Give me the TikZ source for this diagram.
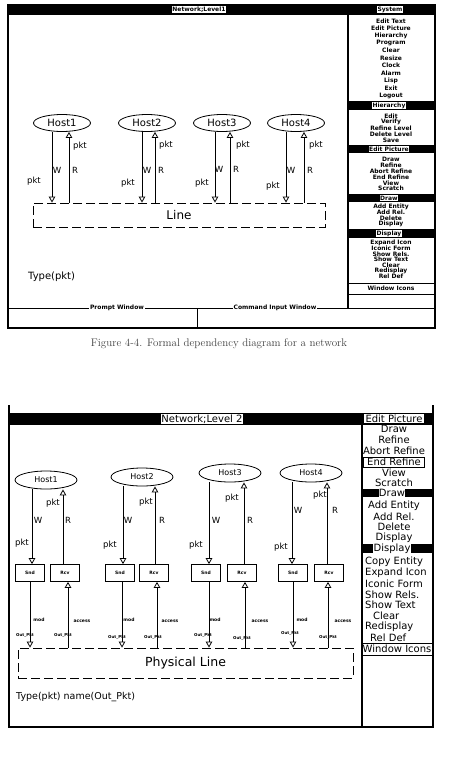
\documentclass[tikz,border=0pt]{standalone}
\usepackage{fontspec}
\newfontfamily\dv{DejaVu Sans}
\usetikzlibrary{shapes.geometric,arrows.meta}
\begin{document}
\begin{tikzpicture}[x=1pt,y=-1pt,
 border/.style={line width=1.6pt},
 thinl/.style={line width=0.8pt},
 bar/.style={fill=black},
 tlab/.style={fill=white,inner sep=0.7pt,font=\dv\bfseries\fontsize{6}{6.5}\selectfont},
 mt/.style={inner sep=0,font=\dv\bfseries\fontsize{6}{6.5}\selectfont},
 mb/.style={inner sep=0,font=\dv\fontsize{10}{11}\selectfont},
 blab/.style={fill=white,inner sep=0.8pt,font=\dv\fontsize{10}{11}\selectfont},
 host/.style={ellipse,draw,line width=0.8pt,minimum width=57pt,minimum height=17pt,inner sep=0,font=\dv\fontsize{10}{11}\selectfont},
 bhost/.style={ellipse,draw,line width=0.8pt,minimum width=62pt,minimum height=18pt,inner sep=0,font=\dv\fontsize{8}{9}\selectfont},
 lab/.style={inner sep=0,font=\dv\fontsize{8.5}{9}\selectfont},
 arr/.style={line width=0.8pt,-{Triangle[open,length=6pt,width=6.5pt]}},
 dbox/.style={draw,dash pattern=on 9pt off 4pt,line width=0.8pt,inner sep=0},
 sr/.style={draw,line width=0.7pt,minimum width=29pt,minimum height=17pt,inner sep=0,font=\dv\bfseries\fontsize{4.5}{5}\selectfont},
 tinyl/.style={inner sep=0,font=\dv\bfseries\fontsize{4.5}{5}\selectfont},
]
\useasboundingbox[fill=white] (0,0) rectangle (456,761);

%%%%%%%%%%%%%%%% TOP WINDOW %%%%%%%%%%%%%%%%
\fill[bar] (8,4) rectangle (435,15);
\node[tlab] (ttitle) at (199,9.5) {Network;Level1};
\node[tlab] (tsys) at (390,9.5) {System};
\draw[border] (8,4) -- (8,328) -- (435,328) -- (435,4);
\draw[border] (348,15) -- (348,308);
\draw[thinl] (8,308) -- (435,308);
\draw[thinl] (197,308) -- (197,328);
\node[tlab,font=\dv\bfseries\fontsize{6}{7}\selectfont] (prompt) at (117,308) {Prompt Window};
\node[tlab,font=\dv\bfseries\fontsize{6}{7}\selectfont] (cmd) at (275,308) {Command Input Window};

% top menu
\foreach \t/\y [count=\i] in {Edit Text/21,Edit Picture/28,Hierarchy/35.5,Program/43,Clear/50.5,Resize/58,Clock/65.5,Alarm/73,Lisp/80.5,Exit/88,Logout/96,
 Edit/116,Verify/122,Refine Level/128,Delete Level/134,Save/140,
 Draw/159,Refine/165,Abort Refine/171,End Refine/177,View/183,Scratch/188.5,
 Add Entity/207,Add Rel./212.5,Delete/218,Display/223.5,
 Expand Icon/243,Iconic Form/248.5,Show Rels./254,Show Text/259.5,Clear/265,Redisplay/270.5,Rel Def/276}
 \node[mt] (tm\i) at (391,\y) {\t};
\fill[bar] (348,101) rectangle (435,110);
\node[tlab] (th1) at (389,105.5) {Hierarchy};
\fill[bar] (348,145) rectangle (435,153);
\node[tlab] (th2) at (389,149) {Edit Picture};
\fill[bar] (348,194) rectangle (435,202);
\node[tlab] (th3) at (389,198) {Draw};
\fill[bar] (348,229) rectangle (435,238);
\node[tlab] (th4) at (389,233.5) {Display};
\draw[thinl] (348,283) -- (435,283);
\draw[thinl] (348,294) -- (435,294);
\node[mt] (twi) at (391,288.5) {Window Icons};

% top diagram
\node[host] (H1) at (62,123) {Host1};
\node[host] (H2) at (147,123) {Host2};
\node[host] (H3) at (222,123) {Host3};
\node[host] (H4) at (296,123) {Host4};
\node[dbox,minimum width=292pt,minimum height=24pt,font=\dv\fontsize{12}{13}\selectfont] (Ln) at (179,215) {Line};

\foreach \h/\w/\r in {H1/52/69,H2/142/155,H3/215/230,H4/286/304}{
 \draw[arr] (\h.south -| \w,0) -- (Ln.north -| \w,0);
 \draw[arr] (Ln.north -| \r,0) -- (\h.south -| \r,0);
}
\node[lab] (p1a) at (80,146) {pkt};
\node[lab] (w1) at (57,170) {W};
\node[lab] (r1) at (75,170) {R};
\node[lab] (p1b) at (34,181) {pkt};
\node[lab] (p2a) at (166,145) {pkt};
\node[lab] (w2) at (147,170) {W};
\node[lab] (r2) at (161,170) {R};
\node[lab] (p2b) at (128,183) {pkt};
\node[lab] (p3a) at (243,145) {pkt};
\node[lab] (w3) at (219,169) {W};
\node[lab] (r3) at (236,169) {R};
\node[lab] (p3b) at (202,183) {pkt};
\node[lab] (p4a) at (316,145) {pkt};
\node[lab] (w4) at (291,170) {W};
\node[lab] (r4) at (310,170) {R};
\node[lab] (p4b) at (273,186) {pkt};

\node[inner sep=0,font=\dv\fontsize{10}{11}\selectfont,anchor=west] (ttype) at (28,277) {Type(pkt)};

% caption
\node[inner sep=0,text=black!75,font=\fontsize{11}{12}\selectfont] (cap) at (219,344) {Figure 4-4. Formal dependency diagram for a network};

%%%%%%%%%%%%%%%% BOTTOM WINDOW %%%%%%%%%%%%%%%%
\fill[bar] (8,413) rectangle (433,425);
\node[blab] (btitle) at (202,419) {Network;Level 2};
\node[blab,minimum width=60pt] (bep) at (394,418.5) {Edit Picture};
\draw[border] (9,405) -- (9,727) -- (433,727) -- (433,405);
\draw[border] (362,425) -- (362,727);

\foreach \t/\y [count=\i] in {Draw/429,Refine/440,Abort Refine/451,View/472.5,Scratch/483,
 Add Entity/506,Add Rel./517,Delete/527,Display/538}
 \node[mb] (bm\i) at (394,\y) {\t};
\node[mb,draw,line width=0.6pt,minimum width=61pt,minimum height=10pt] (bend) at (394,462) {End Refine};
\fill[bar] (362,489) rectangle (433,497);
\node[blab,inner sep=0.3pt] (bh1) at (392,493) {Draw};
\fill[bar] (362,544) rectangle (433,553);
\node[blab,inner sep=0.3pt] (bh2) at (392,548.5) {Display};
\foreach \t/\x/\y [count=\i] in {Copy Entity/365/562,Expand Icon/365/573,Iconic Form/365/583.5,Show Rels./365/594.5,Show Text/365/605,Clear/373/616,Redisplay/365/627,Rel Def/370/638}
 \node[mb,anchor=west] (bd\i) at (\x,\y) {\t};
\draw[thinl] (362,643) -- (433,643);
\draw[thinl] (362,655) -- (433,655);
\node[mb] (bwi) at (397,649) {Window Icons};

% bottom diagram
\node[bhost] (B1) at (46,480) {Host1};
\node[bhost] (B2) at (142,477) {Host2};
\node[bhost] (B3) at (230,473) {Host3};
\node[bhost] (B4) at (311,473) {Host4};
\node[sr] (S1) at (30,573) {Snd};
\node[sr] (R1) at (65,573) {Rcv};
\node[sr] (S2) at (120,573) {Snd};
\node[sr] (R2) at (154,573) {Rcv};
\node[sr] (S3) at (206,573) {Snd};
\node[sr] (R3) at (242,573) {Rcv};
\node[sr] (S4) at (293,573) {Snd};
\node[sr] (R4) at (329,573) {Rcv};
\node[dbox,minimum width=335pt,minimum height=30pt,font=\dv\fontsize{12.5}{13}\selectfont] (PL) at (185.5,663) {Physical Line};

\foreach \h/\s/\rc/\w/\r/\sb/\rb in {B1/S1/R1/32/63/30/68,B2/S2/R2/123/155/122/157,B3/S3/R3/209/244/209/245,B4/S4/R4/292/327/293/328}{
 \draw[arr] (\h.south -| \w,0) -- (\s.north -| \w,0);
 \draw[arr] (\rc.north -| \r,0) -- (\h.south -| \r,0);
 \draw[arr] (\s.south -| \sb,0) -- (PL.north -| \sb,0);
 \draw[arr] (PL.north -| \rb,0) -- (\rc.south -| \rb,0);
}
\node[lab] (q1a) at (53,503) {pkt};
\node[lab] (v1) at (38,520) {W};
\node[lab] (s1) at (68,520) {R};
\node[lab] (q1b) at (22,543) {pkt};
\node[lab] (q2a) at (146,502) {pkt};
\node[lab] (v2) at (128,520) {W};
\node[lab] (s2) at (162,520) {R};
\node[lab] (q2b) at (110,545) {pkt};
\node[lab] (q3a) at (232,498) {pkt};
\node[lab] (v3) at (216,520) {W};
\node[lab] (s3) at (250,520) {R};
\node[lab] (q3b) at (196,545) {pkt};
\node[lab] (q4a) at (320,495) {pkt};
\node[lab] (v4) at (298,510) {W};
\node[lab] (s4) at (335,510) {R};
\node[lab] (q4b) at (281,547) {pkt};

\foreach \x [count=\i] in {39,129,215,302} \node[tinyl] (md\i) at (\x,620) {mod};
\foreach \x [count=\i] in {82,170,260,343} \node[tinyl] (ac\i) at (\x,621) {access};
\foreach \x/\y [count=\i] in {25/635,63/635,117/637,153/637,203/635,242/638,290/633,328/637}
 \node[tinyl,font=\dv\bfseries\fontsize{4}{5}\selectfont] (op\i) at (\x,\y) {Out\_Pkt};

\node[inner sep=0,font=\dv\fontsize{9.5}{10}\selectfont,anchor=west] (btype) at (16,697) {Type(pkt) name(Out\_Pkt)};
\end{tikzpicture}
\end{document}
